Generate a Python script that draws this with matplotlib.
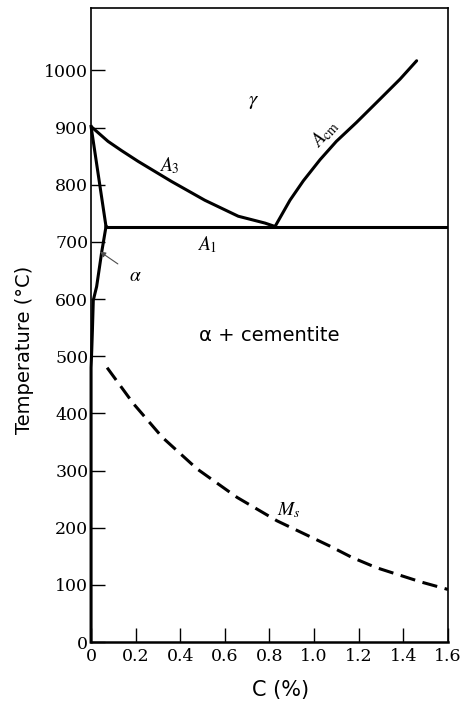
import matplotlib
matplotlib.use("Agg")
import matplotlib.pyplot as plt

plt.rcParams['mathtext.fontset'] = 'stix'

# tick positions / labels
x_ticks = [0, 0.2, 0.4, 0.6, 0.8, 1.0, 1.2, 1.4, 1.6]
x_tick_labels = ['0', '0.2', '0.4', '0.6', '0.8', '1.0', '1.2', '1.4', '1.6']
y_ticks = [0, 100, 200, 300, 400, 500, 600, 700, 800, 900, 1000]

# A3 line (gamma -> alpha + gamma)
a3_c = [0.0, 0.076, 0.136, 0.211, 0.36, 0.51, 0.66, 0.78, 0.825]
a3_t = [902, 876, 860, 841, 806, 773, 745, 733, 727]

# Acm line
acm_c = [0.825, 0.892, 0.952, 1.027, 1.10, 1.19, 1.296, 1.386, 1.46]
acm_t = [727, 773, 807, 844, 876, 909, 950, 985, 1017]

# A1 eutectoid line
a1_c = [0.067, 1.6]
a1_t = [727, 727]

# alpha / alpha+gamma boundary
ag_c = [0.0, 0.067]
ag_t = [902, 727]

# solvus of alpha
sol_c = [0.067, 0.048, 0.025, 0.010, 0.006, 0.003, 0.0, 0.0]
sol_t = [727, 683, 622, 598, 545, 510, 480, 0]

# Ms (martensite start), dashed
ms_c = [0.072, 0.19, 0.32, 0.475, 0.655, 0.834, 1.07, 1.17, 1.28, 1.48, 1.6]
ms_t = [480, 417, 358, 303, 253, 212, 168, 148, 130, 105, 92]

fig = plt.figure(figsize=(4.67, 7.12), dpi=100)
ax = fig.add_axes([0.195, 0.0983, 0.764, 0.891])

lw = 2.2
ax.plot(a3_c, a3_t, color='black', lw=lw, solid_capstyle='round', solid_joinstyle='round')
ax.plot(acm_c, acm_t, color='black', lw=lw, solid_capstyle='round', solid_joinstyle='round')
ax.plot(a1_c, a1_t, color='black', lw=lw)
ax.plot(ag_c, ag_t, color='black', lw=lw, clip_on=False)
ax.plot(sol_c, sol_t, color='black', lw=lw, clip_on=False, solid_joinstyle='round')
ax.plot(ms_c, ms_t, color='black', lw=lw, linestyle=(0, (5, 2.5)))

ax.set_xlim(0, 1.6)
ax.set_ylim(0, 1110)

ax.set_xticks(x_ticks)
ax.set_xticklabels(x_tick_labels, family='DejaVu Serif', fontsize=12.5)
ax.set_yticks(y_ticks)
ax.set_yticklabels([str(v) for v in y_ticks], family='DejaVu Serif', fontsize=12.5)
ax.tick_params(direction='in', length=10, width=1.0, pad=2)
ax.tick_params(axis='x', pad=4)

for s in ax.spines.values():
    s.set_linewidth(1.2)
ax.spines['bottom'].set_linewidth(1.8)

ax.set_ylabel('Temperature (\u00b0C)', family='DejaVu Sans', fontsize=14)
ax.yaxis.set_label_coords(-0.16, 0.46)
ax.set_xlabel('C (%)', family='DejaVu Sans', fontsize=15)
ax.xaxis.set_label_coords(0.53, -0.06)

# region and line labels
ax.text(0.73, 947, r'$\gamma$', fontsize=15, ha='center', va='center')
ax.text(0.35, 834, r'$A_3$', fontsize=14, ha='center', va='center')
ax.text(0.52, 695, r'$A_1$', fontsize=14, ha='center', va='center')
ax.text(1.05, 890, r'$A_{\mathrm{cm}}$', fontsize=14, ha='center', va='center',
        rotation=48)
ax.text(0.885, 230, r'$M_s$', fontsize=14, ha='center', va='center')
ax.text(0.80, 537, '\u03b1 + cementite', family='DejaVu Sans', fontsize=14,
        ha='center', va='center')
ax.annotate(r'$\alpha$', xy=(0.04, 683), xytext=(0.197, 641), fontsize=14,
            ha='center', va='center',
            arrowprops=dict(arrowstyle='-|>', lw=0.8, color='0.3',
                            shrinkA=7, shrinkB=0, mutation_scale=8))

fig.savefig('out.png', dpi=100)
